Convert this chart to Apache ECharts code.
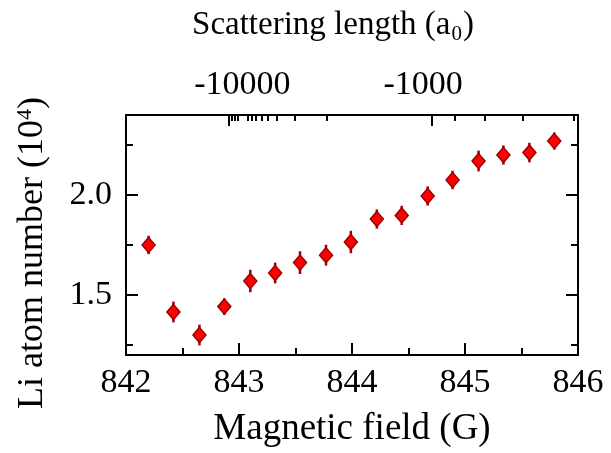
<!DOCTYPE html>
<html>
<head>
<meta charset="utf-8">
<script src="https://cdn.jsdelivr.net/npm/echarts@6/dist/echarts.min.js"></script>
<style>
html,body{margin:0;padding:0;background:#fff;}
#chart{width:611px;height:453px;}
</style>
</head>
<body>
<div id="chart"></div>
<script>
// Magnetic field (G)
const fieldValues = [842.20, 842.42, 842.65, 842.87, 843.10, 843.32, 843.54, 843.77, 843.99, 844.22, 844.44, 844.67, 844.89, 845.12, 845.34, 845.57, 845.79];
// Li atom number (10^4)
const atomNumber = [1.750, 1.415, 1.300, 1.442, 1.570, 1.610, 1.662, 1.699, 1.765, 1.880, 1.898, 1.995, 2.075, 2.170, 2.200, 2.212, 2.270];
// error bars (half-length, 10^4)
const atomError = [0.046, 0.052, 0.052, 0.042, 0.056, 0.052, 0.057, 0.052, 0.056, 0.048, 0.048, 0.048, 0.046, 0.052, 0.048, 0.049, 0.043];

// left axis
const yMajorTicks = [1.5, 2.0];
const yMinorTicks = [1.25, 1.75, 2.25];
// top axis: scattering length ticks, located in field units
const topMajorFields = [842.907, 844.705];
const topMinorFields = [842.934, 842.960, 842.987, 843.075, 843.110, 843.145, 843.198, 843.251, 843.330, 843.489, 843.780, 844.907, 845.172, 845.507, 845.965];
const topLabelFields = [843.03, 844.63];
const topLabels = ['-10000', '-1000'];

const FONT = 'Liberation Serif';
const black = '#000';

const chart = echarts.init(document.getElementById('chart'), null, {renderer: 'canvas'});

const pts = fieldValues.map((x, i) => [x, atomNumber[i], atomError[i]]);

function lineStyle(w) { return {color: black, width: w}; }

const option = {
  backgroundColor: '#fff',
  animation: false,
  grid: {left: 126, right: 33, top: 115, bottom: 96, containLabel: false},
  xAxis: [
    {
      type: 'value', position: 'bottom', min: 842, max: 846, interval: 1,
      axisLine: {show: true, onZero: false, lineStyle: lineStyle(2)},
      axisTick: {show: true, inside: true, length: 12, lineStyle: lineStyle(2)},
      minorTick: {show: true, splitNumber: 2, length: 7, lineStyle: lineStyle(2)},
      splitLine: {show: false}, minorSplitLine: {show: false},
      axisLabel: {fontSize: 34, fontFamily: FONT, color: black, margin: 11, showMinLabel: true, showMaxLabel: true,
        formatter: v => String(Math.round(v))},
      name: 'Magnetic field (G)', nameLocation: 'middle', nameGap: 56, nameMoveOverlap: false,
      nameTextStyle: {fontSize: 37, fontFamily: FONT, color: black}
    },
    {
      type: 'value', position: 'top', min: 842, max: 846,
      axisLine: {show: true, onZero: false, lineStyle: lineStyle(2)},
      axisTick: {show: true, inside: true, length: 11, lineStyle: lineStyle(2), customValues: topMajorFields},
      splitLine: {show: false},
      axisLabel: {show: true, customValues: topLabelFields, fontSize: 34, fontFamily: FONT, color: black, margin: 13,
        formatter: v => {
          let best = 0;
          topLabelFields.forEach((f, i) => { if (Math.abs(f - v) < Math.abs(topLabelFields[best] - v)) best = i; });
          return topLabels[best];
        }},
      name: '{t|Scattering length (a}{s|0}{t|)}', nameLocation: 'middle', nameGap: 70, nameMoveOverlap: false,
      nameTextStyle: {fontSize: 33, fontFamily: FONT, color: black, padding: [0, 38, 0, 0],
        rich: {
          t: {fontSize: 33, fontFamily: FONT, color: black},
          s: {fontSize: 21, fontFamily: FONT, color: black, padding: [19, 1, 0, 1]}
        }}
    },
    {
      type: 'value', position: 'top', min: 842, max: 846,
      axisLine: {show: false},
      axisTick: {show: true, inside: true, length: 6, lineStyle: lineStyle(2), customValues: topMinorFields},
      splitLine: {show: false},
      axisLabel: {show: false}
    }
  ],
  yAxis: [
    {
      type: 'value', position: 'left', min: 1.2, max: 2.4,
      axisLine: {show: true, onZero: false, lineStyle: lineStyle(2)},
      axisTick: {show: true, inside: true, length: 12, lineStyle: lineStyle(2), customValues: yMajorTicks},
      splitLine: {show: false},
      axisLabel: {show: true, customValues: yMajorTicks, fontSize: 34, fontFamily: FONT, color: black, margin: 14,
        formatter: v => v.toFixed(1)},
      name: '{t|Li atom number (10}{p|4}{t|)}{g|}', nameLocation: 'middle', nameGap: 74, nameMoveOverlap: false,
      nameTextStyle: {fontSize: 36, fontFamily: FONT, color: black,
        rich: {
          t: {fontSize: 36, fontFamily: FONT, color: black},
          p: {fontSize: 22, fontFamily: FONT, color: black, padding: [0, 0, 16, 0]},
          g: {width: 36, fontSize: 36}
        }}
    },
    {
      type: 'value', position: 'left', min: 1.2, max: 2.4,
      axisLine: {show: false},
      axisTick: {show: true, inside: true, length: 7, lineStyle: lineStyle(2), customValues: yMinorTicks},
      splitLine: {show: false}, axisLabel: {show: false}
    },
    {
      type: 'value', position: 'right', min: 1.2, max: 2.4,
      axisLine: {show: true, onZero: false, lineStyle: lineStyle(2)},
      axisTick: {show: true, inside: true, length: 12, lineStyle: lineStyle(2), customValues: yMajorTicks},
      splitLine: {show: false}, axisLabel: {show: false}
    },
    {
      type: 'value', position: 'right', min: 1.2, max: 2.4,
      axisLine: {show: false},
      axisTick: {show: true, inside: true, length: 7, lineStyle: lineStyle(2), customValues: yMinorTicks},
      splitLine: {show: false}, axisLabel: {show: false}
    }
  ],
  series: [
    {
      type: 'custom', xAxisIndex: 0, yAxisIndex: 0, z: 2,
      data: pts,
      renderItem: (params, api) => {
        const x = api.value(0), y = api.value(1), e = api.value(2);
        const a = api.coord([x, y - e]);
        const b = api.coord([x, y + e]);
        return {type: 'line', shape: {x1: a[0], y1: a[1], x2: b[0], y2: b[1]},
          style: {stroke: '#a00000', lineWidth: 2.5}};
      }
    },
    {
      type: 'scatter', xAxisIndex: 0, yAxisIndex: 0, z: 3,
      data: pts.map(p => [p[0], p[1]]),
      symbol: 'diamond', symbolSize: [13, 15],
      itemStyle: {color: '#ff0000', borderColor: '#990000', borderWidth: 1.5, opacity: 1}
    }
  ]
};
chart.setOption(option);
</script>
</body>
</html>
